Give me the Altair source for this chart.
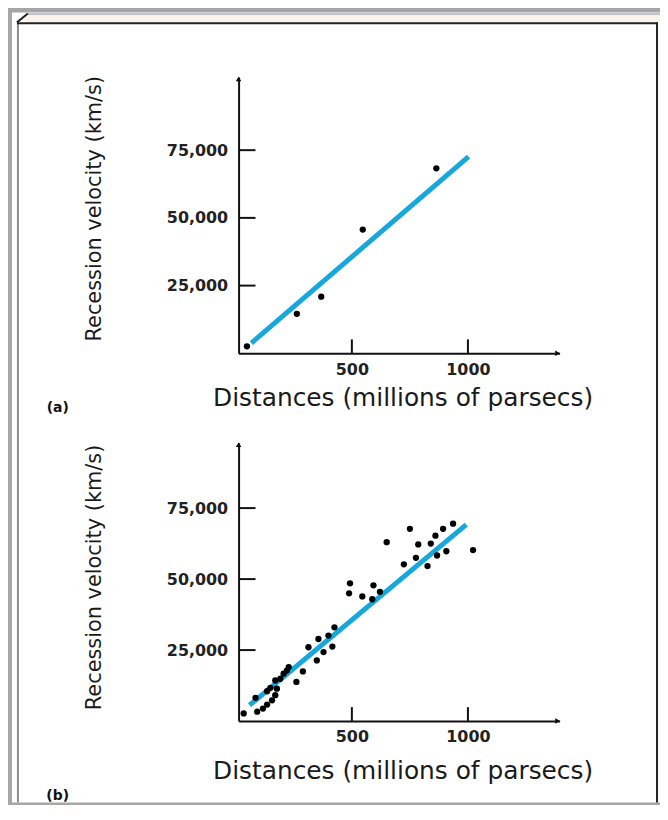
import altair as alt
import pandas as pd

# ---------------- data ----------------
# Panel (a): a handful of galaxies
a_dist = [48, 263, 368, 547, 864]
a_vel = [2600, 14600, 20900, 45700, 68300]
a_fit_dist = [67, 1003]
a_fit_vel = [3800, 72600]

# Panel (b): many galaxies
b_dist = [34, 85, 92, 117, 135, 135, 149, 156, 170, 177,
          170, 192, 206, 220, 228, 261, 289, 313, 349, 356,
          378, 399, 416, 425, 492, 488, 545, 593, 588, 621,
          650, 724, 750, 776, 786, 826, 840, 860, 867, 893,
          907, 936, 1022]
b_vel = [2700, 8200, 3300, 4400, 5800, 10500, 11700, 7300, 9100, 11400,
         14300, 14900, 16700, 17800, 19000, 13800, 17500, 26000, 21350, 28900,
         24300, 30100, 26250, 33000, 48500, 45000, 43900, 47800, 42900, 45500,
         63000, 55200, 67700, 57500, 62200, 54600, 62500, 65300, 58300, 67700,
         59800, 69500, 60200]
b_fit_dist = [59, 993]
b_fit_vel = [5600, 69200]

x_ticks = [500, 1000]
y_ticks = [25000, 50000, 75000]

x_title = "Distances (millions of parsecs)"
y_title = "Recession velocity (km/s)"
panel_labels = ["(a)", "(b)"]

# ---------------- styling ----------------
BG = "#a6a6a6"
LINE_COLOR = "#16a7dc"
FONT = "DejaVu Sans"
X_MIN, X_MAX = 12, 1395
W = 323
OX = 240  # page x of plot's left edge
one = pd.DataFrame({"k": [0]})

AXIS_STYLE = dict(
    grid=False, ticks=False, tickSize=0, zindex=2,
    domainColor="#111111", domainWidth=2,
    labelFont=FONT, labelFontSize=16, labelFontWeight="bold",
    labelColor="#222222",
    titleFont=FONT, titleFontWeight="normal",
    titleColor="#1a1a1a",
)


def panel(dist, vel, fit_d, fit_v, ymax, H, oy, top_page, bottom_page,
          label, label_page_y, ytitle_page_y, xtitle_y, first):
    def rx(px):
        return px - OX

    def ry(py):
        return py - oy

    xs = alt.Scale(domain=[X_MIN, X_MAX], nice=False, zero=False)
    ys = alt.Scale(domain=[0, ymax], nice=False, zero=False)
    X = alt.X("d:Q", scale=xs,
              axis=alt.Axis(values=x_ticks, format="d", title=x_title,
                            titleX=rx(405), titleY=xtitle_y,
                            titleAlign="center", titleBaseline="middle",
                            titleFontSize=25, labelPadding=8,
                            **AXIS_STYLE))
    Y = alt.Y("v:Q", scale=ys,
              axis=alt.Axis(values=y_ticks, format=",d", title=y_title,
                            titleX=rx(95), titleY=ry(ytitle_page_y),
                            titleAngle=270,
                            titleAlign="center", titleBaseline="middle",
                            titleFontSize=21, labelPadding=11,
                            **AXIS_STYLE))

    base = alt.Chart(one)

    def box(x1, x2, y1, y2, color):
        return base.mark_rect(color=color).encode(
            x=alt.value(rx(x1)), x2=alt.value(rx(x2)),
            y=alt.value(ry(y1)), y2=alt.value(ry(y2)))

    layers = []
    # page background / frame pieces
    layers.append(box(8, 664, top_page, bottom_page, BG))
    wtop = 10 if first else top_page
    layers.append(box(12, 664, wtop, bottom_page, "white"))
    ltop = 20 if first else top_page
    layers.append(box(17, 19, ltop, bottom_page, "#8c8c8c"))
    layers.append(box(660, 662, ltop, bottom_page, "#222222"))
    if first:
        layers.append(box(26, 664, 11, 20, "#f8f4ec"))
        layers.append(box(28, 664, 11, 12, "#8a90a8"))
        layers.append(box(17, 662, 20, 22, "#222222"))
        layers.append(base.mark_rule(color="#222222", strokeWidth=2).encode(
            x=alt.value(rx(17)), x2=alt.value(rx(28)),
            y=alt.value(ry(20)), y2=alt.value(ry(11))))

    # inward tick marks
    layers.append(alt.Chart(pd.DataFrame({"d": x_ticks})).mark_rule(
        color="#111111", strokeWidth=2).encode(
        x=X, y=alt.value(H), y2=alt.value(H - 14)))
    layers.append(alt.Chart(pd.DataFrame({"v": y_ticks})).mark_rule(
        color="#111111", strokeWidth=2).encode(
        y=Y, x=alt.value(0), x2=alt.value(17)))

    # fitted line and data points
    layers.append(alt.Chart(pd.DataFrame({"d": fit_d, "v": fit_v})).mark_line(
        color=LINE_COLOR, strokeWidth=5, strokeCap="butt").encode(x=X, y=Y))
    layers.append(alt.Chart(pd.DataFrame({"d": dist, "v": vel})).mark_circle(
        size=40, color="black", opacity=1).encode(x=X, y=Y))

    # arrow heads at the axis ends
    layers.append(base.mark_point(shape="triangle-up", filled=True, size=30,
                                  color="black", opacity=1).encode(
        x=alt.value(0), y=alt.value(2)))
    layers.append(base.mark_point(shape="triangle-right", filled=True, size=30,
                                  color="black", opacity=1).encode(
        x=alt.value(W - 2), y=alt.value(H)))

    # panel label
    layers.append(base.mark_text(text=label, font=FONT, fontWeight="bold",
                                 fontSize=14, color="#111111").encode(
        x=alt.value(rx(58)), y=alt.value(ry(label_page_y))))

    return alt.layer(*layers).properties(width=W, height=H)


pa = panel(a_dist, a_vel, a_fit_dist, a_fit_vel, 102000, 278, 75,
           8, 420, panel_labels[0], 408, 207, 44, True)
pb = panel(b_dist, b_vel, b_fit_dist, b_fit_vel, 98000, 280, 443,
           420, 805, panel_labels[1], 798, 578, 50, False)

chart = (
    alt.vconcat(pa, pb, spacing=0)
    .properties(padding=0)
    .configure(background=BG)
    .configure_view(stroke=None)
)

chart.save("out.html", embed_options={"renderer": "svg", "actions": False})
